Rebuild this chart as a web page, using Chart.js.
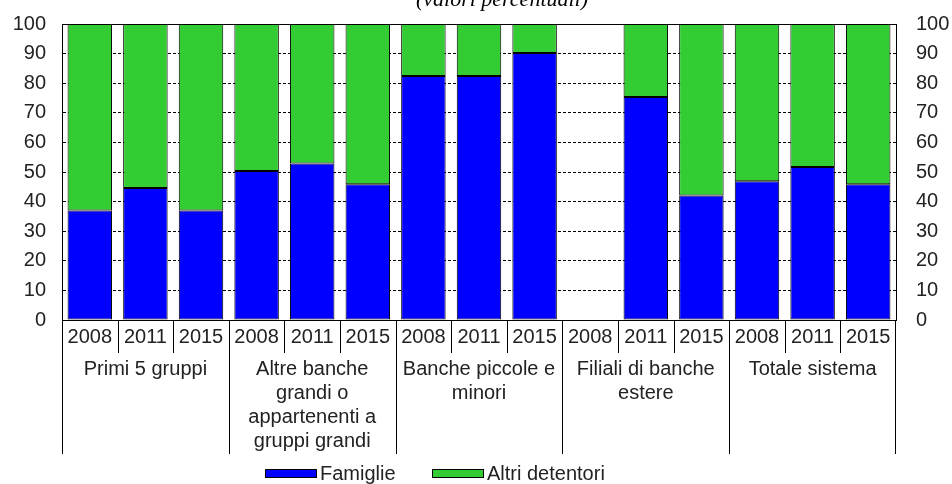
<!DOCTYPE html>
<html>
<head>
<meta charset="utf-8">
<script src="https://cdn.jsdelivr.net/npm/chart.js@4/dist/chart.umd.min.js"></script>
<style>
	html, body { margin: 0; padding: 0; background: #fff; }
	canvas { display: block; }
</style>
</head>
<body>
<canvas id="ct" width="952" height="484"></canvas>
<script>
// 年ラベル（各バー）
const years = ['2008', '2011', '2015', '2008', '2011', '2015', '2008', '2011', '2015', '2008', '2011', '2015', '2008', '2011', '2015'];

// グループラベル（改行ごとに配列）
const groups = [
	['Primi 5 gruppi'],
	['Altre banche', 'grandi o', 'appartenenti a', 'gruppi grandi'],
	['Banche piccole e', 'minori'],
	['Filiali di banche', 'estere'],
	['Totale sistema']
];

// 系列の値（%）
const famiglie = [37, 44.6, 37, 50.3, 52.9, 45.9, 82.4, 82.4, 90.2, null, 75.3, 42.1, 46.9, 51.7, 45.9];
const altri = [63, 55.4, 63, 49.7, 47.1, 54.1, 17.6, 17.6, 9.8, null, 24.7, 57.9, 53.1, 48.3, 54.1];

const yTicks = [0, 10, 20, 30, 40, 50, 60, 70, 80, 90, 100];

const FONT = '"Liberation Sans", Arial, sans-serif';
const TEXT_COLOR = '#222';

// 下の表（年・グループ）、タイトル、凡例を描くプラグイン
const tablePlugin = {
	id: 'tablePlugin',
	afterDraw: function(chart) {
		const ctx = chart.ctx;
		const area = chart.chartArea;
		const x = chart.scales.x;
		const n = years.length;
		const step = (area.right - area.left) / n;

		ctx.save();
		// 上の枠線
		ctx.strokeStyle = '#000';
		ctx.lineWidth = 1;
		ctx.beginPath();
		ctx.moveTo(area.left, Math.round(area.top) + 0.5);
		ctx.lineTo(area.right, Math.round(area.top) + 0.5);
		ctx.stroke();

		// 年の区切り線
		ctx.beginPath();
		for (let i = 1; i < n; i++) {
			const px = Math.round(area.left + step * i) + 0.5;
			const isGroup = i % 3 === 0;
			ctx.moveTo(px, area.bottom);
			ctx.lineTo(px, isGroup ? 454 : 353);
		}
		ctx.moveTo(area.left + 0.5, area.bottom);
		ctx.lineTo(area.left + 0.5, 454);
		ctx.moveTo(area.right - 0.5, area.bottom);
		ctx.lineTo(area.right - 0.5, 454);
		ctx.stroke();

		// 年ラベル
		ctx.fillStyle = TEXT_COLOR;
		ctx.font = '20px ' + FONT;
		ctx.textAlign = 'center';
		ctx.textBaseline = 'middle';
		years.forEach(function(y, i) {
			ctx.fillText(y, x.getPixelForValue(i), 337);
		});

		// グループラベル
		groups.forEach(function(lines, g) {
			const cx = (x.getPixelForValue(g * 3) + x.getPixelForValue(g * 3 + 2)) / 2;
			lines.forEach(function(t, j) {
				ctx.fillText(t, cx, 369 + j * 24);
			});
		});

		// タイトル（上で切れている）
		ctx.font = 'italic 22px "Liberation Serif", "Times New Roman", serif';
		ctx.textBaseline = 'alphabetic';
		ctx.fillStyle = '#000';
		ctx.fillText('(valori percentuali)', 502, 6);

		// 凡例
		const legend = [
			{ label: 'Famiglie', color: '#0000ff', x: 265 },
			{ label: 'Altri detentori', color: '#33cc33', x: 432 }
		];
		ctx.font = '20px ' + FONT;
		ctx.textAlign = 'left';
		ctx.textBaseline = 'middle';
		legend.forEach(function(l) {
			ctx.fillStyle = l.color;
			ctx.fillRect(l.x, 469, 52, 9);
			ctx.strokeStyle = '#000';
			ctx.strokeRect(l.x + 0.5, 469.5, 51, 8);
			ctx.fillStyle = TEXT_COLOR;
			ctx.fillText(l.label, l.x + 55, 474);
		});
		ctx.restore();
	}
};

const tickOpts = {
	stepSize: 10,
	color: TEXT_COLOR,
	font: { family: FONT, size: 20 }
};

// y軸の幅を固定し、ラベルによる上下の余白をなくす
function fixY(width) {
	return function(scale) {
		scale.width = width;
		scale.paddingTop = 0;
		scale.paddingBottom = 0;
	};
}

new Chart(document.getElementById('ct'), {
	type: 'bar',
	data: {
		labels: years,
		datasets: [{
			label: 'Famiglie',
			data: famiglie,
			backgroundColor: '#0000ff',
			borderColor: '#000',
			borderWidth: 1,
			borderSkipped: false
		}, {
			label: 'Altri detentori',
			data: altri,
			backgroundColor: '#33cc33',
			borderColor: '#000',
			borderWidth: 1,
			borderSkipped: false
		}]
	},
	options: {
		responsive: false,
		animation: false,
		devicePixelRatio: 1,
		layout: { padding: { top: 24, left: 0, right: 0, bottom: 0 } },
		datasets: {
			bar: { barPercentage: 0.8, categoryPercentage: 1.0 }
		},
		plugins: {
			legend: { display: false },
			title: { display: false },
			tooltip: { enabled: false }
		},
		scales: {
			x: {
				stacked: true,
				grid: { display: false },
				border: { display: true, color: '#000', width: 1 },
				ticks: { display: false },
				afterFit: function(scale) {
					scale.height = 164;
					scale.paddingLeft = 0;
					scale.paddingRight = 0;
				}
			},
			y: {
				stacked: true,
				min: 0,
				max: 100,
				position: 'left',
				afterBuildTicks: function(scale) { scale.ticks = yTicks.map(function(v) { return { value: v }; }); },
				ticks: Object.assign({ padding: 16 }, tickOpts),
				grid: { color: '#000', lineWidth: 1, drawTicks: false },
				border: { display: true, color: '#000', width: 1, dash: [3, 2] },
				afterFit: fixY(62)
			},
			y2: {
				min: 0,
				max: 100,
				position: 'right',
				afterBuildTicks: function(scale) { scale.ticks = yTicks.map(function(v) { return { value: v }; }); },
				ticks: Object.assign({ padding: 20 }, tickOpts),
				grid: { display: false, drawTicks: false },
				border: { display: true, color: '#000', width: 1 },
				afterFit: fixY(56)
			}
		}
	},
	plugins: [tablePlugin]
});
</script>
</body>
</html>
